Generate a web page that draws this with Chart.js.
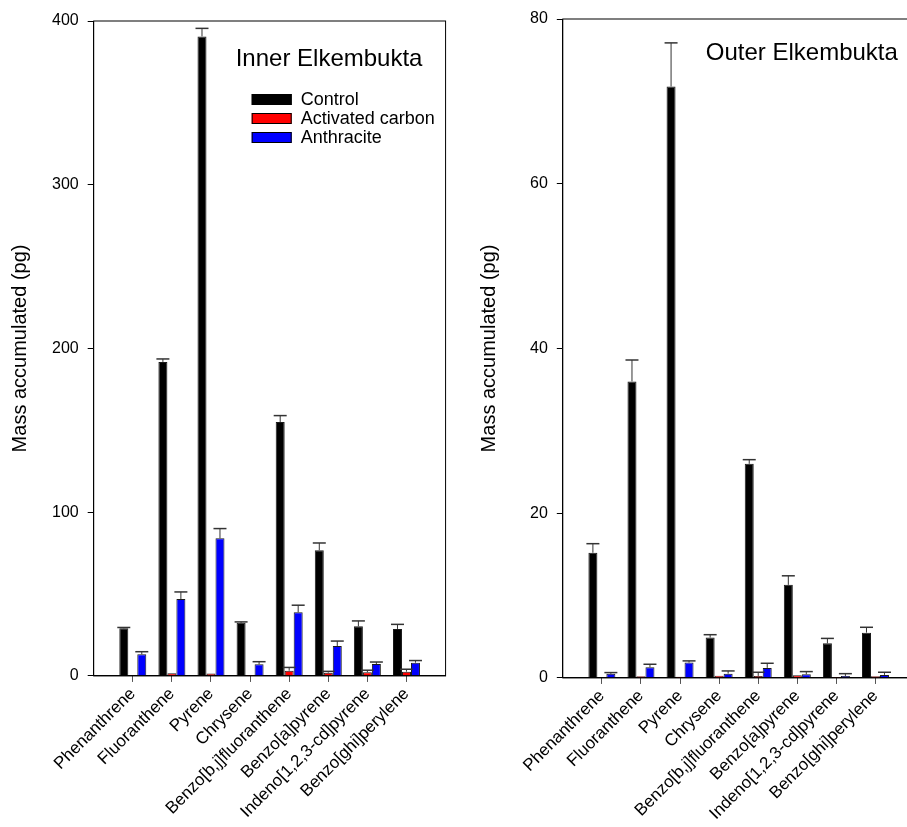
<!DOCTYPE html>
<html>
<head>
<meta charset="utf-8">
<script src="https://cdn.jsdelivr.net/npm/chart.js@4.4.1/dist/chart.umd.min.js"></script>
<style>
  html, body { margin: 0; padding: 0; background: #fff; overflow: hidden; }
  body { width: 907px; height: 827px; position: relative; }
  .panel { position: absolute; top: 0; width: 462px; height: 827px; }
  #innerBox { left: 0; }
  #outerBox { left: 469px; }
</style>
</head>
<body>
<div class="panel" id="innerBox"><canvas id="inner"></canvas></div>
<div class="panel" id="outerBox"><canvas id="outer"></canvas></div>
<script>
// compounds on the x axis
const compounds = ['Phenanthrene', 'Fluoranthene', 'Pyrene', 'Chrysene',
  'Benzo[b,j]fluoranthene', 'Benzo[a]pyrene', 'Indeno[1,2,3-cd]pyrene', 'Benzo[ghi]perylene'];
const seriesNames = ['Control', 'Activated carbon', 'Anthracite'];

// Inner Elkembukta (pg)
const innerControl    = [29.1, 191.8, 390.6, 32.5, 155.1, 76.8, 30.3, 28.7];
const innerControlErr = [0.5, 1.8, 4.9, 0.5, 3.9, 4.4, 3.3, 2.8];
const innerAC         = [0.3, 1.6, 1.5, 0.5, 3.2, 2.0, 2.2, 2.6];
const innerACErr      = [0, 0, 0, 0, 2.0, 0.8, 1.3, 1.5];
const innerAnth       = [13.2, 47.0, 84.1, 7.1, 38.9, 18.3, 7.3, 8.1];
const innerAnthErr    = [1.6, 4.3, 5.9, 1.6, 4.3, 3.0, 1.2, 1.3];

// Outer Elkembukta (pg)
const outerControl    = [15.2, 36.0, 71.8, 4.9, 26.0, 11.3, 4.2, 5.5];
const outerControlErr = [1.1, 2.6, 5.3, 0.35, 0.5, 1.1, 0.6, 0.65];
const outerAC         = [0, 0.2, 0.15, 0.28, 0.24, 0.32, 0.1, 0.2];
const outerACErr      = [0, 0, 0, 0, 0.45, 0, 0, 0];
const outerAnth       = [0.5, 1.3, 1.87, 0.52, 1.22, 0.45, 0.24, 0.37];
const outerAnthErr    = [0.15, 0.36, 0.2, 0.33, 0.56, 0.32, 0.28, 0.32];

const yTicksInner = [0, 100, 200, 300, 400];
const yTicksOuter = [0, 20, 40, 60, 80];

const barColors = ['#000000', '#ff0000', '#0000ff'];
const font = 'Liberation Sans, Arial, sans-serif';

// one empty slot at each end of the axis, like the original
const pad = arr => [null, ...arr, null];
const labels = ['', ...compounds, ''];

const errorBars = {
  id: 'errorBars',
  afterDatasetsDraw(chart) {
    const ctx = chart.ctx;
    const y = chart.scales.y;
    chart.data.datasets.forEach((ds, i) => {
      const meta = chart.getDatasetMeta(i);
      meta.data.forEach((bar, j) => {
        const v = ds.data[j], e = ds.errors[j];
        if (v == null || !e) return;
        const top = y.getPixelForValue(v + e);
        ctx.save();
        ctx.strokeStyle = '#333';
        ctx.lineWidth = 1;
        ctx.beginPath();
        ctx.moveTo(bar.x, bar.y);
        ctx.lineTo(bar.x, top);
        ctx.stroke();
        ctx.lineWidth = 1.5;
        ctx.beginPath();
        ctx.moveTo(bar.x - 6.5, top);
        ctx.lineTo(bar.x + 6.5, top);
        ctx.stroke();
        ctx.restore();
      });
    });
  }
};

const panelText = {
  id: 'panelText',
  afterDraw(chart, args, opts) {
    const ctx = chart.ctx;
    const a = chart.chartArea;
    ctx.save();
    ctx.strokeStyle = '#000';
    ctx.lineWidth = 1;
    ctx.strokeRect(a.left, a.top, a.right - a.left, a.bottom - a.top);
    ctx.fillStyle = '#000';
    ctx.font = '24px ' + font;
    ctx.textBaseline = 'middle';
    ctx.fillText(opts.title, a.left + opts.tx, a.top + opts.ty);
    if (opts.legend) {
      ctx.font = '18px ' + font;
      chart.data.datasets.forEach((ds, i) => {
        const bx = a.left + 158, by = a.top + 73 + i * 19;
        ctx.fillStyle = ds.backgroundColor;
        ctx.fillRect(bx, by, 40, 11);
        ctx.strokeStyle = '#000';
        ctx.strokeRect(bx + 0.5, by + 0.5, 39, 10);
        ctx.fillStyle = '#000';
        ctx.fillText(ds.label, bx + 49, by + 6);
      });
    }
    ctx.restore();
  }
};

function makeChart(id, series, yTicks, opts) {
  return new Chart(document.getElementById(id), {
    type: 'bar',
    data: {
      labels: labels,
      datasets: series.map((s, i) => ({
        label: seriesNames[i],
        data: pad(s.values),
        errors: pad(s.errors),
        backgroundColor: barColors[i],
        borderColor: '#1a1a1a',
        borderWidth: 1,
        categoryPercentage: 0.69,
        barPercentage: 1
      }))
    },
    plugins: [errorBars, panelText],
    options: {
      responsive: true,
      maintainAspectRatio: false,
      animation: false,
      layout: { padding: { top: opts.padTop, right: 6, bottom: opts.padBottom, left: 8 } },
      plugins: {
        legend: { display: false },
        tooltip: { enabled: false },
        panelText: { title: opts.title, tx: opts.tx, ty: opts.ty, legend: opts.legend }
      },
      scales: {
        x: {
          offset: false,
          grid: {
            offset: false,
            drawOnChartArea: false,
            tickLength: 6,
            tickColor: c => (c.index === 0 || c.index === labels.length - 1) ? 'rgba(0,0,0,0)' : '#555'
          },
          border: { color: '#000', width: 1 },
          ticks: {
            autoSkip: false, maxRotation: 45, minRotation: 45,
            color: '#000', font: { family: font, size: 17 }, padding: 2
          }
        },
        y: {
          min: yTicks[0],
          max: yTicks[yTicks.length - 1],
          afterBuildTicks: axis => { axis.ticks = yTicks.map(v => ({ value: v })); },
          grid: { drawOnChartArea: false, tickLength: 6, tickColor: '#000' },
          border: { color: '#000', width: 1 },
          ticks: { color: '#000', font: { family: font, size: 16 }, padding: 9 },
          title: {
            display: true, text: 'Mass accumulated (pg)', color: '#000',
            font: { family: font, size: 20 }, padding: { top: 0, bottom: opts.titleGap }
          }
        }
      }
    }
  });
}

makeChart('inner', [
  { values: innerControl, errors: innerControlErr },
  { values: innerAC, errors: innerACErr },
  { values: innerAnth, errors: innerAnthErr }
], yTicksInner, { title: 'Inner Elkembukta', tx: 142, ty: 38, legend: true, padTop: 21, padBottom: 3, titleGap: 11 });

makeChart('outer', [
  { values: outerControl, errors: outerControlErr },
  { values: outerAC, errors: outerACErr },
  { values: outerAnth, errors: outerAnthErr }
], yTicksOuter, { title: 'Outer Elkembukta', tx: 143, ty: 34, legend: false, padTop: 19, padBottom: 1, titleGap: 20 });
</script>
</body>
</html>
